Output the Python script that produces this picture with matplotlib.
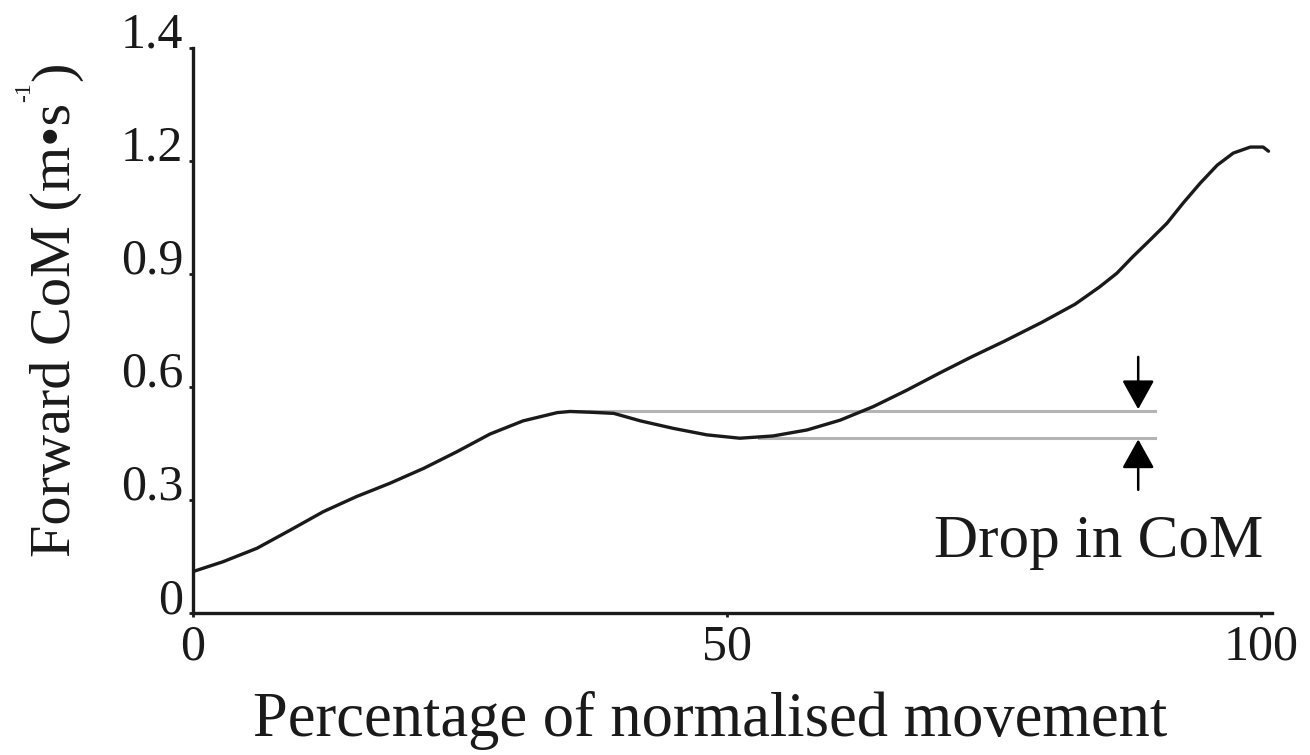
import matplotlib
matplotlib.use("Agg")
import matplotlib.pyplot as plt

plt.rcParams['font.family'] = ['Liberation Serif', 'DejaVu Serif']

# Data
pct = [0.0, 2.8, 6.0, 9.1, 12.2, 15.3, 18.4, 21.6, 24.7, 27.8, 30.9, 34.1, 35.3,
       37.2, 39.4, 41.9, 45.0, 48.1, 51.2, 54.3, 57.5, 60.6, 63.7, 66.8, 69.9,
       72.9, 76.0, 79.5, 82.6, 84.9, 86.5, 88.0, 89.6, 91.2, 92.7, 94.3,
       95.9, 97.4, 99.0, 100.2, 100.7]
com = [0.110, 0.136, 0.172, 0.220, 0.269, 0.309, 0.344, 0.384, 0.428, 0.475, 0.510,
       0.532, 0.535, 0.533, 0.530, 0.510, 0.490, 0.473, 0.464, 0.470, 0.486, 0.512,
       0.548, 0.591, 0.637, 0.680, 0.722, 0.772, 0.820, 0.866, 0.902, 0.946,
       0.990, 1.035, 1.088, 1.141, 1.189, 1.221, 1.237, 1.237, 1.226]

x_ticks = [0, 50, 100]
x_tick_labels = ["0", "50", "100"]
y_ticks = [0, 0.3, 0.6, 0.9, 1.2, 1.5]
y_tick_labels = ["0", "0.3", "0.6", "0.9", "1.2", "1.4"]

peak_level = 0.537
trough_level = 0.465
peak_x = 35.3
trough_x = 53.0
ref_end_x = 90.1
arrow_x = 88.5
arrow_top = 0.68
arrow_bottom = 0.327

W, H = 1310, 755
fig = plt.figure(figsize=(W / 100, H / 100), dpi=100)
ax = fig.add_axes([193 / W, 1 - 613 / H, (1271.7 - 193) / W, (613 - 48) / H])

ax.plot([peak_x, ref_end_x], [peak_level, peak_level], color='#b4b4b4', lw=2.2, zorder=1)
ax.plot([trough_x, ref_end_x], [trough_level, trough_level], color='#b4b4b4', lw=2.2, zorder=1)
ax.plot(pct, com, color='#1a1a1a', lw=2.4, zorder=2,
        solid_capstyle='round', solid_joinstyle='round')

arrow_style = dict(arrowstyle='-|>,head_length=0.9,head_width=0.5', mutation_scale=20,
                   color='black', lw=1.8, shrinkA=0, shrinkB=0)
ax.annotate('', xy=(arrow_x, peak_level + 0.004), xytext=(arrow_x, arrow_top),
            arrowprops=arrow_style)
ax.annotate('', xy=(arrow_x, trough_level - 0.004), xytext=(arrow_x, arrow_bottom),
            arrowprops=arrow_style)
ax.text(84.8, 0.149, 'Drop in CoM', fontsize=44, ha='center', va='baseline', color='#1a1a1a')

ax.set_xlim(0, 101)
ax.set_ylim(0, 1.5)
ax.set_xticks(x_ticks)
ax.set_xticklabels(x_tick_labels)
ax.set_yticks(y_ticks)
ax.set_yticklabels(y_tick_labels)
ax.tick_params(axis='both', length=3, width=2, direction='out', labelsize=36,
               colors='#1a1a1a')
ax.tick_params(axis='x', pad=5)
ax.tick_params(axis='y', pad=4)
for lab in ax.get_yticklabels():
    lab.set_va('baseline')

for s in ['top', 'right']:
    ax.spines[s].set_visible(False)
for s in ['left', 'bottom']:
    ax.spines[s].set_linewidth(2.4)
    ax.spines[s].set_color('#1a1a1a')

ax.set_xlabel('Percentage of normalised movement', fontsize=45, color='#1a1a1a')
ax.xaxis.set_label_coords(0.479, -0.19)
ax.xaxis.label.set_va('center')

# y label: "Forward CoM (m•s" + small superscript "-1" + ")"
base_x = 70 / W
start_px = 557
target_len = 557 - 103
t1 = fig.text(base_x, 1 - start_px / H, 'Forward CoM (m•s', fontsize=46, rotation=90,
              rotation_mode='anchor', ha='left', va='baseline', color='#1a1a1a')
fig.canvas.draw()
r = fig.canvas.get_renderer()
bb = t1.get_window_extent(r)
t1.set_fontsize(46 * target_len / bb.height)
fig.canvas.draw()
bb = t1.get_window_extent(r)
t2 = fig.text(base_x - 40 / W, (bb.y1 + 1) / H, '-1', fontsize=17, rotation=90,
              rotation_mode='anchor', ha='left', va='baseline', color='#1a1a1a')
fig.canvas.draw()
bb2 = t2.get_window_extent(r)
t3 = fig.text(base_x, (bb2.y1 + 1) / H, ')', fontsize=t1.get_fontsize(), rotation=90,
              rotation_mode='anchor', ha='left', va='baseline', color='#1a1a1a')

fig.savefig('out.png', dpi=100)
